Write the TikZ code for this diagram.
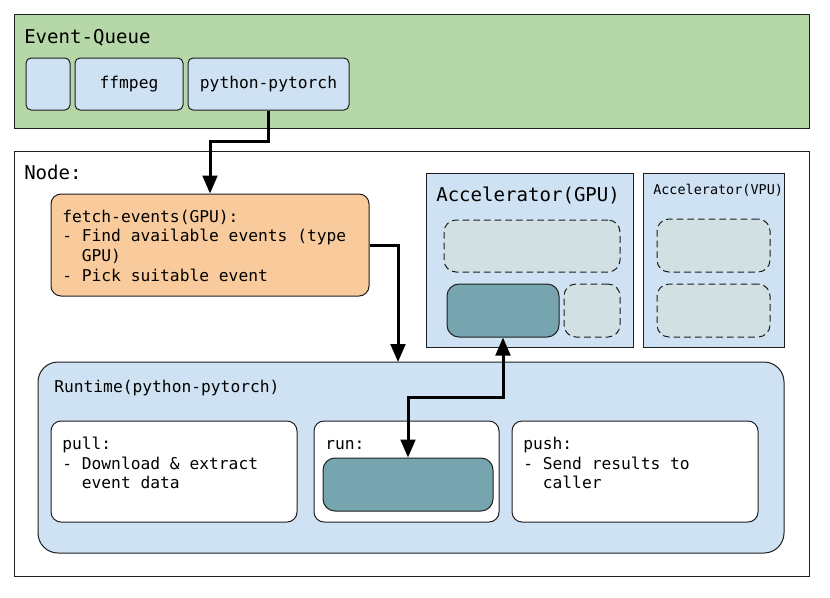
\documentclass[tikz,border=0pt]{standalone}
\usepackage{fontspec}
\setmonofont{DejaVu Sans Mono}
\usepackage{tikz}
\usetikzlibrary{arrows.meta,positioning,fit,calc}
\definecolor{queuec}{HTML}{B6D7A8}
\definecolor{palec}{HTML}{CFE2F3}
\definecolor{fetchc}{HTML}{F9CB9C}
\definecolor{slotc}{HTML}{D0E0E3}
\definecolor{busyc}{HTML}{76A5AF}
\definecolor{edgec}{HTML}{1E1E1E}
\newcommand{\bigtxt}{\fontsize{14.3}{17.2}\selectfont}
\newcommand{\midtxt}{\fontsize{12.2}{14.85}\selectfont}
\newcommand{\smalltxt}{\fontsize{10.1}{12}\selectfont}
\newcommand{\ind}{\phantom{- }}

\begin{document}
\begin{tikzpicture}[x=0.75pt, y=-0.75pt, font=\ttfamily\midtxt,
  box/.style={draw=edgec, line width=0.75pt, inner sep=0pt},
  qbox/.style={box, fill=palec, rounded corners=3.75pt},
  card/.style={box, fill=white, rounded corners=7.5pt},
  slot/.style={box, fill=slotc, dash pattern=on 5pt off 3pt, rounded corners=9pt},
  busy/.style={box, fill=busyc, rounded corners=9pt},
  txt/.style={inner sep=0pt, anchor=base west},
  para/.style={inner sep=0pt, anchor=north west, align=left},
  tip/.tip={Triangle[length=13.5pt,width=11pt]},
  flow/.style={line width=2.25pt, -tip},
  flowboth/.style={line width=2.25pt, tip-tip}]
\useasboundingbox (0,0) rectangle (830,597);
% ---- event queue
\node[box, fill=queuec, fit={(14,14) (809,128)}] (queue) {};
\node[txt, font=\ttfamily\bigtxt] at (24,43) {Event-Queue};
\node[qbox, fit={(26,58) (70,110)}] (q0) {};
\node[qbox, fit={(75,58) (183,110)}] (ffm) {};
\node at (ffm.center) {ffmpeg};
\node[qbox, fit={(188,58) (349,110)}] (pyt) {};
\node at (pyt.center) {python-pytorch};
% ---- node
\node[box, fill=white, fit={(14,151) (809,576)}] (host) {};
\node[txt, font=\ttfamily\bigtxt] at (24,179) {Node:};
\node[box, fill=fetchc, rounded corners=7.5pt, fit={(51,194) (369,296)}] (fetch) {};
\node[para] at (62,209.5) {fetch-events(GPU):\\- Find available events (type\\\ind GPU)\\- Pick suitable event};
% ---- accelerators
\node[box, fill=palec, fit={(426,173) (633,347)}] (gpu) {};
\node[txt, font=\ttfamily\bigtxt] at (436,201) {Accelerator(GPU)};
\node[slot, fit={(444,220) (620,272)}] (gslot) {};
\node[busy, fit={(447,284) (559,337)}] (gteal) {};
\node[slot, fit={(564,284) (620,337)}] (gfree) {};
\node[box, fill=palec, fit={(643,173) (784,347)}] (vpu) {};
\node[txt, font=\ttfamily\smalltxt] at (653,194) {Accelerator(VPU)};
\node[slot, fit={(657,219) (770,272)}] (vslota) {};
\node[slot, fit={(657,284) (770,337)}] (vslotb) {};
% ---- runtime
\node[box, fill=palec, rounded corners=15pt, fit={(38,362) (784,553)}] (runtime) {};
\node[txt] at (54,392) {Runtime(python-pytorch)};
\node[card, fit={(51,421) (297,522)}] (pull) {};
\node[para] at (62,436.6) {pull:\\- Download \& extract\\\ind event data};
\node[card, fit={(314,421) (499,522)}] (run) {};
\node[txt] at (325,449) {run:};
\node[busy, fit={(323,458) (493,511)}] (rteal) {};
\node[card, fit={(512,421) (758,522)}] (push) {};
\node[para] at (523,436.6) {push:\\- Send results to\\\ind caller};
% ---- connectors
\coordinate (rtin) at (398,362);
\draw[flow] (pyt.south) -- ++(0,31) -| (fetch.north);
\draw[flow] (fetch.east) -| (rtin);
\draw[flowboth] (gteal.south) -- ++(0,60) -| (rteal.north);
\end{tikzpicture}
\end{document}
